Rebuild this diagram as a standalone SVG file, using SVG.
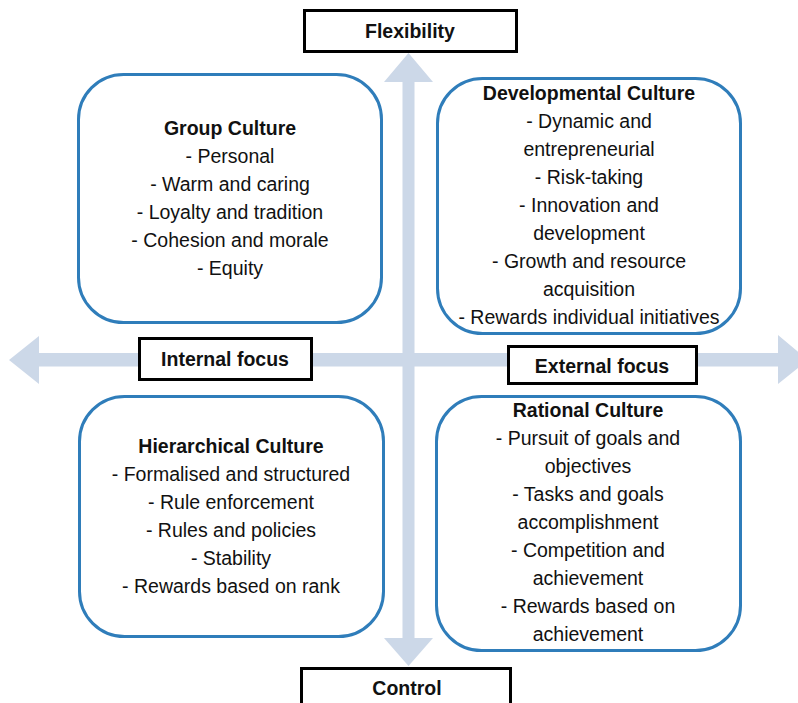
<svg xmlns="http://www.w3.org/2000/svg" width="798" height="703" viewBox="0 0 798 703">
<style>
.bg{fill:#ffffff}
.arrow{fill:#CCD8E8;stroke:none}
.quad{fill:#ffffff;stroke:#2F7DBA;stroke-width:3}
.lbl{fill:#ffffff;stroke:#000000;stroke-width:3}
text{font-family:"Liberation Sans",Arial,sans-serif;font-size:19.5px;fill:#111111;text-anchor:middle}
.b{font-weight:bold}
</style>
<rect class="bg" x="0" y="0" width="798" height="703"/>
<g id="connectors">
<polygon class="arrow" points="408.5,53 433,82 414.5,82 414.5,638 433,638 408.5,666 384,638 402.5,638 402.5,82 384,82"/>
<polygon class="arrow" points="9,360 39,336 39,353 778,353 778,335 808,360 778,384 778,366.5 39,366.5 39,384"/>
</g>
<g id="flexibility">
<rect class="lbl" x="304.5" y="10.5" width="212" height="41"/>
<text class="b" x="410" y="37.5">Flexibility</text>
</g>
<g id="control">
<rect class="lbl" x="301.5" y="668.5" width="209" height="50"/>
<text class="b" x="407" y="694.5">Control</text>
</g>
<g id="internal-focus">
<rect class="lbl" x="139.5" y="338.5" width="172" height="41"/>
<text class="b" x="225" y="366">Internal focus</text>
</g>
<g id="external-focus">
<rect class="lbl" x="508.5" y="346.5" width="188" height="37"/>
<text class="b" x="602" y="373">External focus</text>
</g>
<g id="group-culture">
<rect class="quad" x="78.5" y="74.5" width="303" height="248" rx="45" ry="45"/>
<text class="b" x="230" y="135">Group Culture</text>
<text x="230" y="163">- Personal</text>
<text x="230" y="191">- Warm and caring</text>
<text x="230" y="219">- Loyalty and tradition</text>
<text x="230" y="247">- Cohesion and morale</text>
<text x="230" y="275">- Equity</text>
</g>
<g id="developmental-culture">
<rect class="quad" x="437.5" y="78.5" width="303" height="255" rx="45" ry="45"/>
<text class="b" x="589" y="100">Developmental Culture</text>
<text x="589" y="128">- Dynamic and</text>
<text x="589" y="156">entrepreneurial</text>
<text x="589" y="184">- Risk-taking</text>
<text x="589" y="212">- Innovation and</text>
<text x="589" y="240">development</text>
<text x="589" y="268">- Growth and resource</text>
<text x="589" y="296">acquisition</text>
<text x="589" y="324">- Rewards individual initiatives</text>
</g>
<g id="hierarchical-culture">
<rect class="quad" x="79.5" y="396.5" width="304" height="240" rx="45" ry="45"/>
<text class="b" x="231" y="453">Hierarchical Culture</text>
<text x="231" y="481">- Formalised and structured</text>
<text x="231" y="509">- Rule enforcement</text>
<text x="231" y="537">- Rules and policies</text>
<text x="231" y="565">- Stability</text>
<text x="231" y="593">- Rewards based on rank</text>
</g>
<g id="rational-culture">
<rect class="quad" x="436.5" y="396.5" width="304" height="254" rx="45" ry="45"/>
<text class="b" x="588" y="417">Rational Culture</text>
<text x="588" y="445">- Pursuit of goals and</text>
<text x="588" y="473">objectives</text>
<text x="588" y="501">- Tasks and goals</text>
<text x="588" y="529">accomplishment</text>
<text x="588" y="557">- Competition and</text>
<text x="588" y="585">achievement</text>
<text x="588" y="613">- Rewards based on</text>
<text x="588" y="641">achievement</text>
</g>
</svg>
